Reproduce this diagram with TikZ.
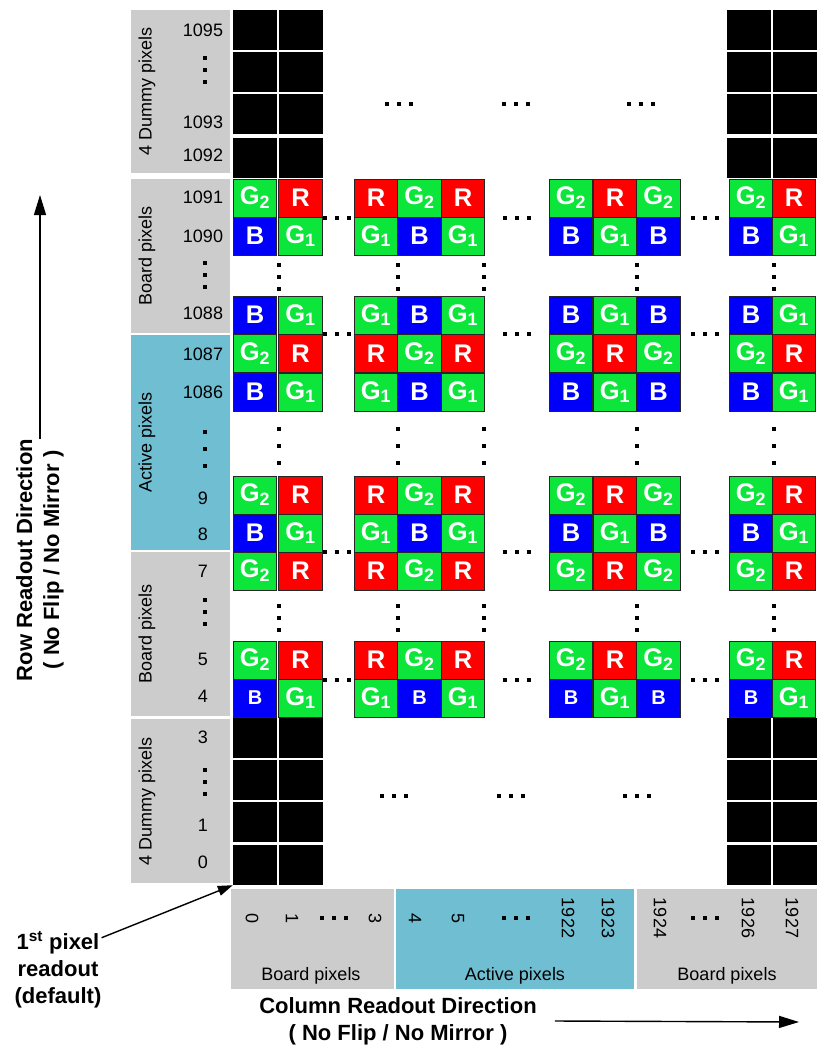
\documentclass[tikz,border=0pt]{standalone}
\usepackage{fontspec}
\setmainfont{Liberation Sans}
\usetikzlibrary{arrows.meta,positioning}

\definecolor{boardgray}{RGB}{204,204,204}
\definecolor{activeblue}{RGB}{112,190,210}
\definecolor{pixgreen}{RGB}{12,230,58}
\definecolor{pixred}{RGB}{255,0,0}
\definecolor{pixblue}{RGB}{0,0,250}

\newcommand{\pixlabel}[1]{\ifcase#1 G\textsubscript{2}\or R\or B\or G\textsubscript{1}\or B\or G\textsubscript{1}\fi}

\begin{document}
\begin{tikzpicture}[x=1pt,y=-1pt,
	graybox/.style={fill=boardgray,inner sep=0pt},
	bluebox/.style={fill=activeblue,inner sep=0pt},
	boxlabel/.style={font=\fontsize{18}{20}\selectfont,inner sep=0pt,rotate=90},
	num/.style={font=\fontsize{18}{20}\selectfont,inner sep=0pt},
	colnum/.style={num,rotate=-90},
	dummy/.style={fill=black,minimum width=44pt,minimum height=40pt,inner sep=0pt},
	pix/.style={draw=black!85,line width=0.8pt,minimum width=43.5pt,minimum height=38pt,inner sep=0pt,text=white,font=\fontsize{25.5}{25.5}\selectfont\bfseries},
	pix0/.style={fill=pixgreen},
	pix1/.style={fill=pixred},
	pix2/.style={fill=pixblue},
	pix3/.style={fill=pixgreen},
	pix4/.style={fill=pixblue,font=\fontsize{20}{20}\selectfont\bfseries},
	pix5/.style={fill=pixgreen},
	boldlbl/.style={font=\fontsize{22}{27}\selectfont\bfseries,align=center,inner sep=0pt},
	readarrow/.style={line width=1.4pt,-{Triangle[length=20pt,width=12pt]}},
	firstarrow/.style={line width=1.4pt,-{Triangle[length=15pt,width=10pt]}},
	vdts/.pic={\foreach \k in {-1,0,1} \fill (-1.6,\k*12-1.6) rectangle ++(3.2,3.2);},
	vdtsl/.pic={\foreach \k in {-1,0,1} \fill (-1.6,\k*17-1.6) rectangle ++(3.2,3.2);},
	hdts/.pic={\foreach \k in {-1,0,1} \fill (\k*12-1.6,-1.6) rectangle ++(3.2,3.2);}]
	\useasboundingbox (0,0) rectangle (823,1051);

	% row bands
	\node[graybox,minimum width=99pt,minimum height=163pt] (dumtop) at (180.5,91.5) {};
	\node[graybox,minimum width=99pt,minimum height=154pt] (boardtop) at (180.5,256) {};
	\node[bluebox,minimum width=99pt,minimum height=215pt] (active) at (180.5,442.5) {};
	\node[graybox,minimum width=99pt,minimum height=164pt] (boardlow) at (180.5,634) {};
	\node[graybox,minimum width=99pt,minimum height=164pt] (dumlow) at (180.5,801) {};
	\node[boxlabel] (dumtoplbl) at (147,91.5) {4 Dummy pixels};
	\node[boxlabel] (boardtoplbl) at (147,256) {Board pixels};
	\node[boxlabel] (activelbl) at (147,442.5) {Active pixels};
	\node[boxlabel] (boardlowlbl) at (147,634) {Board pixels};
	\node[boxlabel] (dumlowlbl) at (147,801) {4 Dummy pixels};
	\foreach \rn/\ry in {1095/30,1093/122,1092/155,1091/197,1090/236,1088/313,1087/354,1086/392,9/498,8/534,7/571,5/659,4/696,3/737,1/825,0/862}
		\node[num] (r\rn) at (203,\ry) {\rn};
	\pic at (205,70) {vdts};
	\pic at (205,275) {vdts};
	\pic at (205,449) {vdtsl};
	\pic at (205,612) {vdts};
	\pic at (205,782) {vdts};

	% column bands
	\node[graybox,minimum width=163pt,minimum height=100pt] (boardleft) at (312.5,939) {};
	\node[bluebox,minimum width=238pt,minimum height=100pt] (activecol) at (515,939) {};
	\node[graybox,minimum width=180pt,minimum height=100pt] (boardright) at (727,939) {};
	\node[num,anchor=base] (boardleftlbl) at (311,980) {Board pixels};
	\node[num,anchor=base] (activecollbl) at (515,980) {Active pixels};
	\node[num,anchor=base] (boardrightlbl) at (727,980) {Board pixels};
	\foreach \cn/\cx in {0/252,1/292,3/375,4/415,5/458,1922/568,1923/608,1924/660,1926/748,1927/792}
		\node[colnum] (c\cn) at (\cx,918) {\cn};
	\foreach \hx in {334,516,705}
		\pic at (\hx,918) {hdts};

	% dummy pixels
	\foreach \dx [count=\di] in {255,301,749,795}
		\foreach \dy [count=\dj] in {30,72,114,158,738,780,822,865}
			\node[dummy] (d-\dj-\di) at (\dx,\dy) {};
	\foreach \hx in {399,516,641}
		\pic at (\hx,104) {hdts};
	\foreach \hx in {394,511,637}
		\pic at (\hx,796) {hdts};

	% bayer pixels
	\foreach \cx/\cp [count=\ci] in {255/0,300.5/1,376/1,419.5/0,463/1,571/0,615/1,658.5/0,751/0,794/1}
		\foreach \ry/\rt/\rn in {198/0/1091,236/1/1090,315/1/1088,353.5/0/1087,392/1/1086,495/0/9,533/1/8,571/0/7,660/0/5,698/2/4}
		{
			\pgfmathtruncatemacro{\pk}{2*\rt+\cp}
			\node[pix,pix\pk] (p-\rn-\ci) at (\cx,\ry) {\pixlabel{\pk}};
		}
	\foreach \vx in {279,398,484,637,774}
	{
		\pic at (\vx,277) {vdts};
		\pic at (\vx,446) {vdtsl};
		\pic at (\vx,618) {vdts};
	}
	\foreach \hy in {218,334,552,680}
	{
		\pic at (337,\hy) {hdts};
		\pic at (517,\hy) {hdts};
		\pic at (705,\hy) {hdts};
	}

	% readout directions
	\node[boldlbl,rotate=90] (rowlbl) at (40,560) {Row Readout Direction\\( No Flip / No Mirror )};
	\coordinate (rowend) at (40,195);
	\draw[readarrow] (rowlbl.east) -- (rowend);
	\node[boldlbl] (collbl) at (398,1021) {Column Readout Direction\\( No Flip / No Mirror )};
	\coordinate (colend) at (799,1022);
	\draw[readarrow] ([xshift=18pt]collbl.east) -- (colend);
	\node[boldlbl] (firstlbl) at (58,970) {1\textsuperscript{st} pixel\\readout\\(default)};
	\draw[firstarrow] ([yshift=-6pt]firstlbl.north east) -- (d-8-1.south west);
\end{tikzpicture}
\end{document}
